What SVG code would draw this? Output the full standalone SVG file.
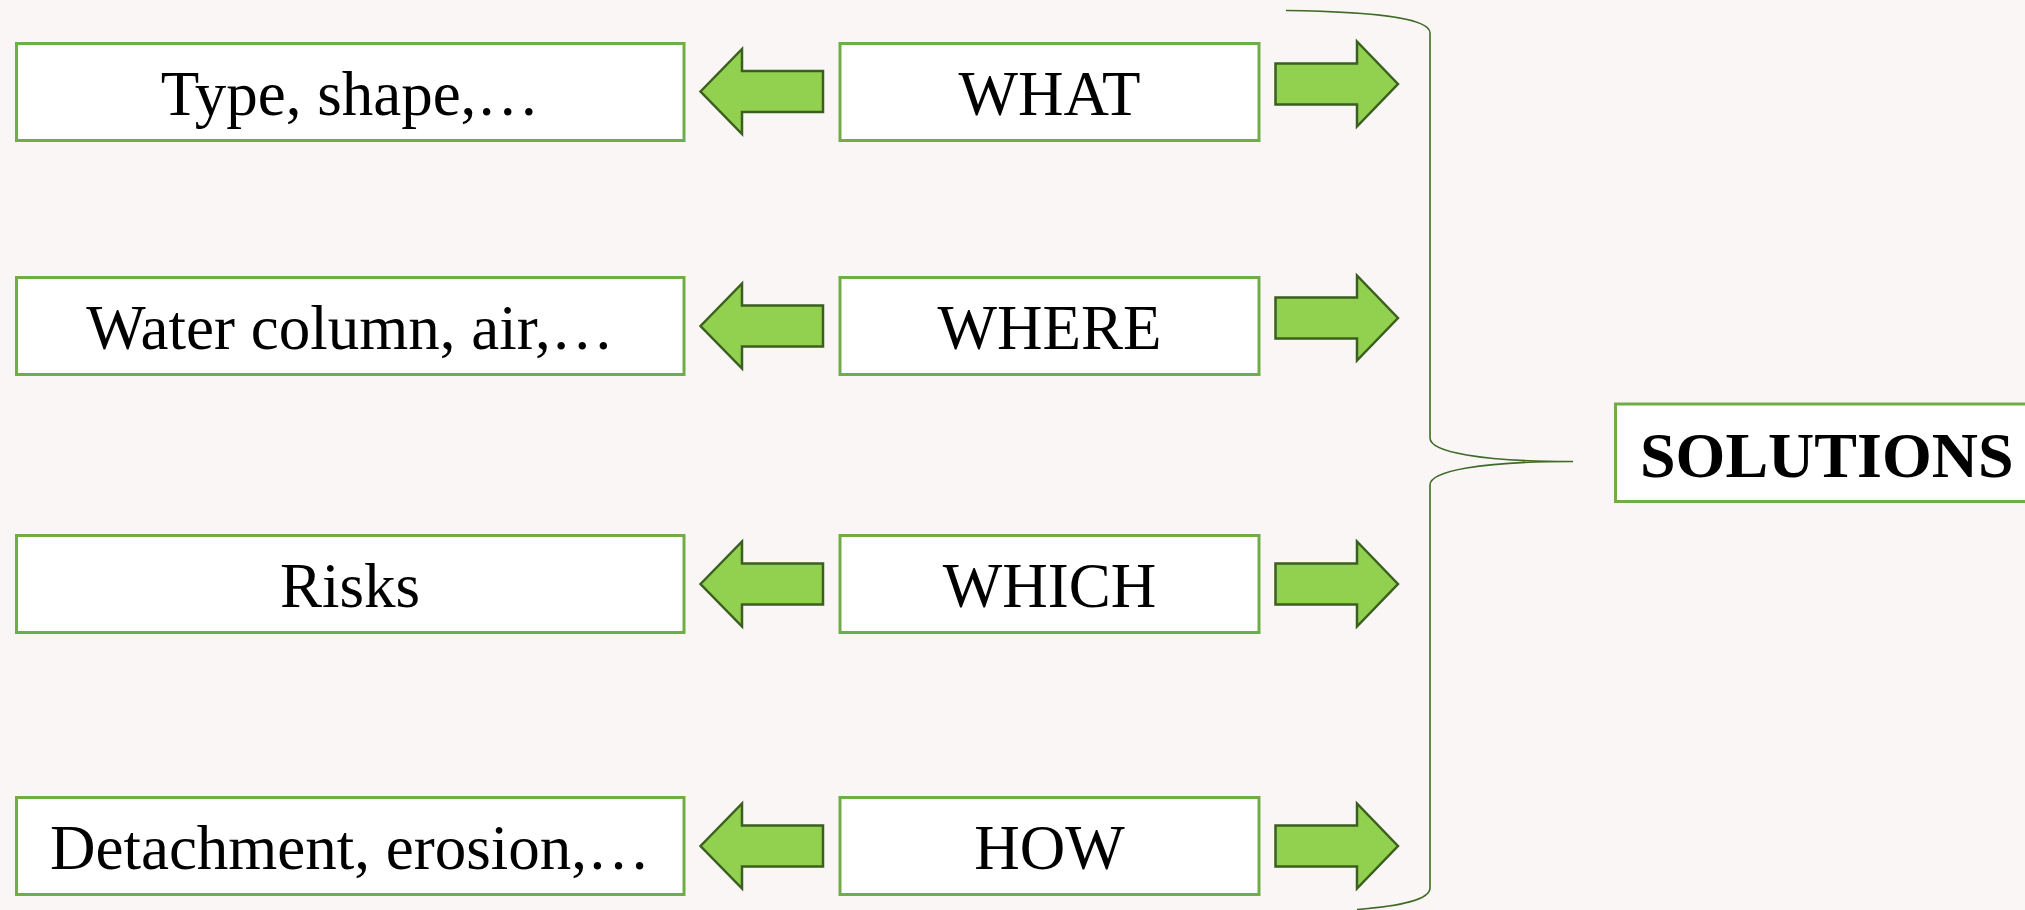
<svg xmlns="http://www.w3.org/2000/svg" width="2025" height="910" viewBox="0 0 2025 910">
  <defs>
    <style>
      .box { fill: #FFFFFF; stroke: #70AD47; stroke-width: 3; }
      .lbl { font-family: "Liberation Serif", "Times New Roman", serif; font-size: 63px; fill: #000000; text-anchor: middle; }
      .big { font-family: "Liberation Serif", "Times New Roman", serif; font-size: 64px; font-weight: bold; fill: #000000; }
      .arrow { fill: #92D050; stroke: #3A5F1E; stroke-width: 2.5; stroke-linejoin: miter; }
      .brace { fill: none; stroke: #3F6A27; stroke-width: 1.6; }
    </style>
    <!-- block arrows centred on y=0 -->
    <polygon id="arrowLeft" class="arrow" points="700.5,0 742,-42.5 742,-20.5 823,-20.5 823,20.5 742,20.5 742,42.5"/>
    <polygon id="arrowRight" class="arrow" points="1398,0 1357,-42.5 1357,-20.5 1275.5,-20.5 1275.5,20.5 1357,20.5 1357,42.5"/>
  </defs>

  <rect width="2025" height="910" fill="#F9F6F5"/>

  <!-- left description boxes -->
  <g id="desc-what">
    <rect class="box" x="16.5" y="43.5" width="667.5" height="97"/>
    <text class="lbl" x="350" y="115">Type, shape,…</text>
  </g>
  <g id="desc-where">
    <rect class="box" x="16.5" y="277.5" width="667.5" height="97"/>
    <text class="lbl" x="350" y="349">Water column, air,…</text>
  </g>
  <g id="desc-which">
    <rect class="box" x="16.5" y="535.5" width="667.5" height="97"/>
    <text class="lbl" x="350" y="607">Risks</text>
  </g>
  <g id="desc-how">
    <rect class="box" x="16.5" y="797.5" width="667.5" height="97"/>
    <text class="lbl" x="350" y="869">Detachment, erosion,…</text>
  </g>

  <!-- question boxes -->
  <g id="q-what">
    <rect class="box" x="840" y="43.5" width="419" height="97"/>
    <text class="lbl" x="1049.5" y="115">WHAT</text>
  </g>
  <g id="q-where">
    <rect class="box" x="840" y="277.5" width="419" height="97"/>
    <text class="lbl" x="1049.5" y="349">WHERE</text>
  </g>
  <g id="q-which">
    <rect class="box" x="840" y="535.5" width="419" height="97"/>
    <text class="lbl" x="1049.5" y="607">WHICH</text>
  </g>
  <g id="q-how">
    <rect class="box" x="840" y="797.5" width="419" height="97"/>
    <text class="lbl" x="1049.5" y="869">HOW</text>
  </g>

  <!-- result box -->
  <g id="solutions">
    <rect class="box" x="1615.5" y="404" width="500" height="97.5"/>
    <text class="big" x="1640" y="477">SOLUTIONS</text>
  </g>

  <!-- connectors: block arrows and the gathering brace -->
  <g id="connectors">
    <use href="#arrowLeft" transform="translate(0,91.5)"/>
    <use href="#arrowRight" transform="translate(0,84)"/>
    <use href="#arrowLeft" transform="translate(0,326)"/>
    <use href="#arrowRight" transform="translate(0,318)"/>
    <use href="#arrowLeft" transform="translate(0,584)"/>
    <use href="#arrowRight" transform="translate(0,584)"/>
    <use href="#arrowLeft" transform="translate(0,846)"/>
    <use href="#arrowRight" transform="translate(0,846)"/>
    <path class="brace" d="M1286,10.5 C1390,12 1430,20 1430,33 L1430,438 C1430,452 1480,461.5 1573,461.5 M1573,461.5 C1480,461.5 1430,471 1430,485 L1430,888 C1430,900 1400,906 1357,909.5"/>
  </g>
</svg>
